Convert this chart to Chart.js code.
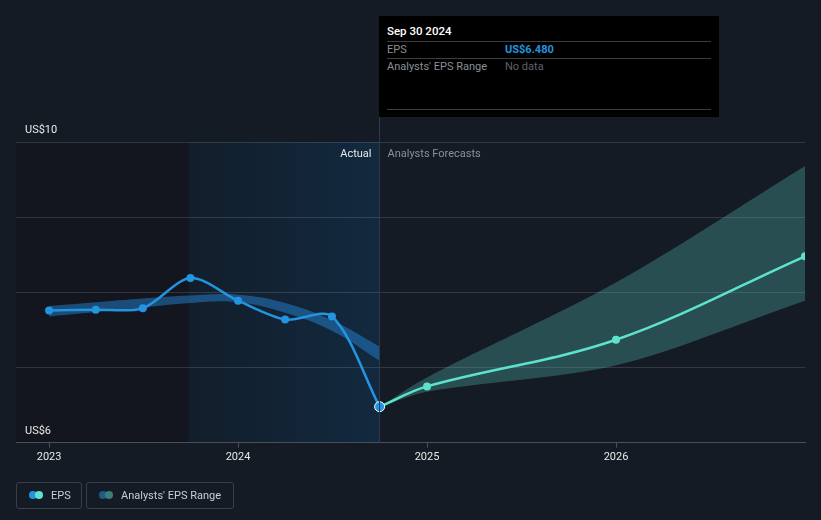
<!DOCTYPE html>
<html>
<head>
<meta charset="utf-8">
<script src="https://cdn.jsdelivr.net/npm/chart.js@4"></script>
<style>
  html, body { margin: 0; padding: 0; background: #151b25; }
  body { width: 821px; height: 520px; position: relative; overflow: hidden; font-family: Roboto, "Noto Sans", sans-serif; }
  #wrap { position: absolute; left: 0; top: 0; width: 821px; height: 520px; }
  .tip { position: absolute; left: 379px; top: 16px; width: 340px; height: 101px; background: #000; }
  .tip .date { position: absolute; left: 8px; top: 8px; color: #fff; font-size: 11.5px; font-weight: 500; }
  .tip .rule { position: absolute; left: 8px; width: 324px; height: 1px; background: #3a3d42; }
  .tip .lab { position: absolute; left: 8px; color: #8b8f96; font-size: 11px; }
  .tip .val { position: absolute; left: 126px; font-size: 11px; }
  .legend { position: absolute; top: 482px; height: 27px; border: 1px solid #393f48; border-radius: 3px; box-sizing: border-box; color: #c9ccd1; font-size: 11px; }
  .legend .dots { position: absolute; left: 12px; top: 8px; width: 16px; height: 8px; }
  .legend .dots i { position: absolute; top: 0; width: 8px; height: 8px; border-radius: 50%; }
  .legend span.t { position: absolute; left: 34px; top: 6px; }
</style>
</head>
<body>
<div id="wrap"><canvas id="eps" width="821" height="520"></canvas></div>

<div class="tip">
  <div class="date">Sep 30 2024</div>
  <div class="rule" style="top:25px"></div>
  <div class="lab" style="top:27px">EPS</div>
  <div class="val" style="top:27px;color:#2394df;font-weight:700">US$6.480</div>
  <div class="rule" style="top:42px"></div>
  <div class="lab" style="top:44px">Analysts' EPS Range</div>
  <div class="val" style="top:44px;color:#5f636a">No data</div>
  <div class="rule" style="top:93px"></div>
</div>

<div class="legend" style="left:16px;width:66px">
  <div class="dots"><i style="left:0;background:#2394df"></i><i style="left:6px;background:#5de3cd"></i></div>
  <span class="t">EPS</span>
</div>
<div class="legend" style="left:86px;width:148px">
  <div class="dots"><i style="left:0;background:#1f5a88"></i><i style="left:6px;background:#3a7d7a"></i></div>
  <span class="t">Analysts' EPS Range</span>
</div>

<script>
// dates as decimal years
const actualDates = [2023.0, 2023.247, 2023.496, 2023.748, 2024.0, 2024.249, 2024.497, 2024.749];
const actualEps = [7.76, 7.77, 7.79, 8.19, 7.89, 7.64, 7.68, 6.48];

const pastRangeHigh = [7.82, 7.87, 7.92, 7.96, 7.97, 7.86, 7.63, 7.28];
const pastRangeLow = [7.68, 7.74, 7.80, 7.86, 7.87, 7.73, 7.49, 7.09];

const forecastDates = [2024.749, 2025.0, 2026.0, 2027.0];
const forecastEps = [6.48, 6.75, 7.37, 8.48];
const forecastHigh = [6.48, 6.87, 8.13, 9.68];
const forecastLow = [6.48, 6.68, 7.03, 7.89];

const yearTicks = [2023, 2024, 2025, 2026];
const axisLabels = ["US$10", "US$6"];

const xMin = 2022.825, xMax = 2027.0;
const lastActual = 2024.749;
const shadeStart = 2023.748;

function pts(xs, ys) {
  return xs.map((x, i) => ({ x: x, y: ys[i] }));
}

// background regions, divider, inline labels
const decor = {
  id: "decor",
  beforeDraw(chart) {
    const { ctx, chartArea: a, scales } = chart;
    const xs = Math.round(scales.x.getPixelForValue(shadeStart)) - 1;
    const xe = scales.x.getPixelForValue(lastActual);
    ctx.save();
    ctx.fillStyle = "#13161e";
    ctx.fillRect(a.left, a.top, xs - a.left, a.bottom - a.top);
    const g = ctx.createLinearGradient(xs, 0, xe, 0);
    g.addColorStop(0, "#121e2b");
    g.addColorStop(1, "#12293f");
    ctx.fillStyle = g;
    ctx.fillRect(xs, a.top, xe - xs, a.bottom - a.top);
    ctx.restore();
  },
  afterDraw(chart) {
    const { ctx, chartArea: a, scales } = chart;
    const xe = Math.round(scales.x.getPixelForValue(lastActual)) - 0.5;
    ctx.save();
    ctx.strokeStyle = "#2c3a4a";
    ctx.lineWidth = 1;
    ctx.beginPath();
    ctx.moveTo(xe, 117);
    ctx.lineTo(xe, a.bottom);
    ctx.stroke();
    ctx.font = "11px Roboto, sans-serif";
    ctx.textBaseline = "middle";
    ctx.textAlign = "right";
    ctx.fillStyle = "#e8e8e8";
    ctx.fillText("Actual", xe - 8, a.top + 12);
    ctx.textAlign = "left";
    ctx.fillStyle = "#8a8f98";
    ctx.fillText("Analysts Forecasts", xe + 8, a.top + 12);
    ctx.fillStyle = "#e8e8e8";
    ctx.fillText(axisLabels[0], a.left + 9, scales.y.getPixelForValue(10) - 12);
    ctx.fillText(axisLabels[1], a.left + 9, scales.y.getPixelForValue(6) - 12);
    ctx.restore();
  }
};

const ctx = document.getElementById("eps").getContext("2d");
new Chart(ctx, {
  type: "line",
  data: {
    datasets: [
      {
        label: "EPS",
        data: pts(actualDates, actualEps),
        borderColor: "#2394df",
        backgroundColor: "#2394df",
        borderWidth: 2.5,
        tension: 0.3,
        pointRadius: [4, 4, 4, 4, 4, 4, 4, 5],
        pointBorderColor: ["#2394df", "#2394df", "#2394df", "#2394df", "#2394df", "#2394df", "#2394df", "#ffffff"],
        pointBorderWidth: [0, 0, 0, 0, 0, 0, 0, 1],
        fill: false,
        order: 0,
        clip: 0
      },
      {
        label: "Forecast",
        data: pts(forecastDates, forecastEps),
        borderColor: "#5de3cd",
        backgroundColor: "#5de3cd",
        borderWidth: 2.5,
        tension: 0.35,
        pointRadius: [0, 4, 4, 4],
        pointBorderWidth: 0,
        fill: false,
        order: 1,
        clip: 0
      },
      {
        label: "rangeHigh",
        data: pts(actualDates, pastRangeHigh),
        borderWidth: 0,
        pointRadius: 0,
        tension: 0.4,
        fill: "+1",
        backgroundColor: "rgba(35, 130, 210, 0.5)",
        order: 2,
        clip: 0
      },
      {
        label: "rangeLow",
        data: pts(actualDates, pastRangeLow),
        borderWidth: 0,
        pointRadius: 0,
        tension: 0.4,
        fill: false,
        order: 3,
        clip: 0
      },
      {
        label: "fcHigh",
        data: pts(forecastDates, forecastHigh),
        borderWidth: 0,
        pointRadius: 0,
        tension: 0.3,
        fill: "+1",
        backgroundColor: "rgba(88, 200, 190, 0.3)",
        order: 4,
        clip: 0
      },
      {
        label: "fcLow",
        data: pts(forecastDates, forecastLow),
        borderWidth: 0,
        pointRadius: 0,
        tension: 0.3,
        fill: false,
        order: 5,
        clip: 0
      }
    ]
  },
  options: {
    responsive: false,
    animation: false,
    layout: { padding: { left: 16, right: 16, top: 142, bottom: 53 } },
    plugins: { legend: { display: false }, tooltip: { enabled: false } },
    scales: {
      x: {
        type: "linear",
        min: xMin,
        max: xMax,
        afterBuildTicks(scale) {
          scale.ticks = yearTicks.map(v => ({ value: v }));
        },
        ticks: {
          color: "#e8e8e8",
          font: { family: "Roboto", size: 11 },
          padding: 3,
          maxRotation: 0,
          callback: v => String(v)
        },
        grid: { drawOnChartArea: false, drawTicks: true, tickLength: 5, color: "#4a5058" },
        border: { display: true, color: "#4a5058", width: 1 }
      },
      y: {
        min: 6,
        max: 10,
        ticks: { display: false, stepSize: 1 },
        grid: { color: "rgba(255,255,255,0.13)", drawTicks: false },
        border: { display: false }
      }
    }
  },
  plugins: [decor]
});
</script>
</body>
</html>
